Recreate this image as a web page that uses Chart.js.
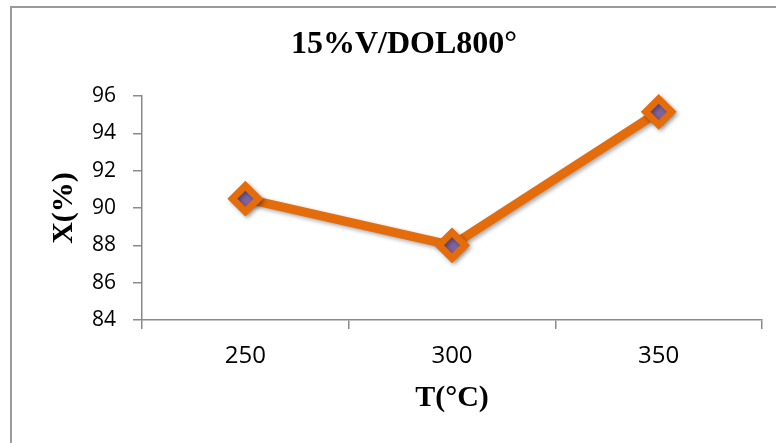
<!DOCTYPE html>
<html>
<head>
<meta charset="utf-8">
<script src="https://cdn.jsdelivr.net/npm/chart.js@4/dist/chart.umd.min.js"></script>
<style>
  html, body { margin: 0; padding: 0; background: #fff; }
  #wrap { width: 776px; height: 443px; }
</style>
</head>
<body>
<div id="wrap"><canvas id="chart" width="776" height="443"></canvas></div>
<script>
// --- DATA ---
const temperatures = ['250', '300', '350'];
const conversion = [90.5, 88.0, 95.15];
const yTicks = [84, 86, 88, 90, 92, 94, 96];

const chartTitle = '15%V/DOL800°';
const xTitle = 'T(°C)';
const yTitle = 'X(%)';

// --- STYLE ---
const lineColor = '#E46C0A';
const markerFill = '#8064A2';
const axisColor = '#8a8a8a';
const serif = "'Liberation Serif', 'Times New Roman', serif";
const sans = "'Open Sans', 'Noto Sans', sans-serif";

// outer frame of the chart object
const framePlugin = {
    id: 'frame',
    beforeDraw(chart) {
        const ctx = chart.ctx;
        ctx.save();
        ctx.fillStyle = '#fff';
        ctx.fillRect(0, 0, chart.width, chart.height);
        ctx.strokeStyle = '#9a9a9a';
        ctx.lineWidth = 2;
        ctx.strokeRect(11, 7, 900, 900);
        ctx.restore();
    }
};

// soft drop shadow under the line and markers
const shadowPlugin = {
    id: 'shadow',
    beforeDatasetsDraw(chart) {
        const ctx = chart.ctx;
        ctx.save();
        ctx.shadowColor = 'rgba(0,0,0,0.35)';
        ctx.shadowBlur = 4;
        ctx.shadowOffsetX = 2;
        ctx.shadowOffsetY = 2;
    },
    afterDatasetsDraw(chart) {
        chart.ctx.restore();
    }
};

const ctx = document.getElementById('chart').getContext('2d');

new Chart(ctx, {
    type: 'line',
    data: {
        labels: temperatures,
        datasets: [{
            data: conversion,
            borderColor: lineColor,
            borderWidth: 9,
            tension: 0,
            clip: false,
            pointStyle: 'rectRot',
            pointRadius: 13,
            pointBorderWidth: 7,
            pointBorderColor: lineColor,
            pointBackgroundColor: markerFill
        }]
    },
    options: {
        responsive: false,
        animation: false,
        layout: { autoPadding: false, padding: { left: 46, right: 14, top: 0, bottom: 0 } },
        plugins: {
            legend: { display: false },
            tooltip: { enabled: false },
            title: {
                display: true,
                text: chartTitle,
                color: '#000',
                font: { family: serif, size: 32, weight: 'bold', lineHeight: 1.2 },
                padding: { top: 26, bottom: 31.6 }
            }
        },
        scales: {
            x: {
                type: 'category',
                offset: true,
                grid: {
                    offset: true,
                    drawOnChartArea: false,
                    drawTicks: true,
                    tickLength: 9,
                    color: axisColor,
                    lineWidth: 1.5
                },
                border: { display: true, color: axisColor, width: 1.5 },
                ticks: {
                    color: '#000',
                    font: { family: sans, size: 24 },
                    padding: 13
                },
                title: {
                    display: true,
                    text: xTitle,
                    color: '#000',
                    font: { family: serif, size: 30, weight: 'bold', lineHeight: 1.2 },
                    padding: { top: 0, bottom: 27 }
                },
                afterFit(scale) {
                    scale.height = 123;
                    scale.paddingLeft = 0;
                    scale.paddingRight = 0;
                }
            },
            y: {
                min: yTicks[0],
                max: yTicks[yTicks.length - 1],
                afterBuildTicks(scale) {
                    scale.ticks = yTicks.map(v => ({ value: v }));
                },
                grid: {
                    drawOnChartArea: false,
                    drawTicks: true,
                    tickLength: 9,
                    color: axisColor,
                    lineWidth: 1.5
                },
                border: { display: true, color: axisColor, width: 1.5 },
                ticks: {
                    color: '#000',
                    font: { family: sans, size: 21 },
                    padding: 17
                },
                title: {
                    display: true,
                    text: yTitle,
                    color: '#000',
                    font: { family: serif, size: 30, weight: 'bold', lineHeight: 1.2 },
                    padding: { top: 0, bottom: 0 }
                },
                afterFit(scale) { scale.width = 96; }
            }
        }
    },
    plugins: [framePlugin, shadowPlugin]
});
</script>
</body>
</html>
